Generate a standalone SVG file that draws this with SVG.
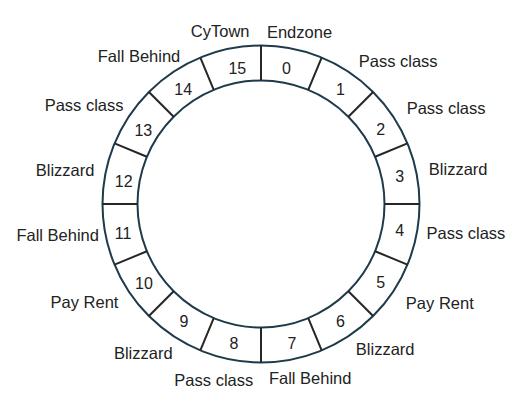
<svg xmlns="http://www.w3.org/2000/svg" width="532" height="417" viewBox="0 0 532 417">
<style>
.ring{fill:none;stroke:#1f3a4a;stroke-width:2}
.div{stroke:#262626;stroke-width:2}
.num{font-family:"Liberation Sans",Arial,sans-serif;font-size:16px;fill:#222;text-anchor:middle}
.lbl{font-family:"Liberation Sans",Arial,sans-serif;font-size:16.5px;fill:#222;text-anchor:middle}
</style>
<rect width="532" height="417" fill="#fff"/>
<g id="ring">
<circle class="ring" cx="261" cy="204" r="158.5"/>
<circle class="ring" cx="261" cy="204" r="123.5"/>
</g>
<g id="connectors">
<g transform="translate(261 204)">
<line class="div" x1="0" y1="-123.5" x2="0" y2="-158.5" transform="rotate(0)"/>
<line class="div" x1="0" y1="-123.5" x2="0" y2="-158.5" transform="rotate(22.5)"/>
<line class="div" x1="0" y1="-123.5" x2="0" y2="-158.5" transform="rotate(45)"/>
<line class="div" x1="0" y1="-123.5" x2="0" y2="-158.5" transform="rotate(67.5)"/>
<line class="div" x1="0" y1="-123.5" x2="0" y2="-158.5" transform="rotate(90)"/>
<line class="div" x1="0" y1="-123.5" x2="0" y2="-158.5" transform="rotate(112.5)"/>
<line class="div" x1="0" y1="-123.5" x2="0" y2="-158.5" transform="rotate(135)"/>
<line class="div" x1="0" y1="-123.5" x2="0" y2="-158.5" transform="rotate(157.5)"/>
<line class="div" x1="0" y1="-123.5" x2="0" y2="-158.5" transform="rotate(180)"/>
<line class="div" x1="0" y1="-123.5" x2="0" y2="-158.5" transform="rotate(202.5)"/>
<line class="div" x1="0" y1="-123.5" x2="0" y2="-158.5" transform="rotate(225)"/>
<line class="div" x1="0" y1="-123.5" x2="0" y2="-158.5" transform="rotate(247.5)"/>
<line class="div" x1="0" y1="-123.5" x2="0" y2="-158.5" transform="rotate(270)"/>
<line class="div" x1="0" y1="-123.5" x2="0" y2="-158.5" transform="rotate(292.5)"/>
<line class="div" x1="0" y1="-123.5" x2="0" y2="-158.5" transform="rotate(315)"/>
<line class="div" x1="0" y1="-123.5" x2="0" y2="-158.5" transform="rotate(337.5)"/>
</g>
</g>
<g id="seg0"><text class="num" x="286.4" y="73.5">0</text><text class="lbl" x="299.5" y="37.5">Endzone</text></g>
<g id="seg1"><text class="num" x="340.5" y="95">1</text><text class="lbl" x="398.2" y="67">Pass class</text></g>
<g id="seg2"><text class="num" x="380.8" y="135">2</text><text class="lbl" x="446.1" y="113.5">Pass class</text></g>
<g id="seg3"><text class="num" x="399.7" y="182.3">3</text><text class="lbl" x="458.2" y="175">Blizzard</text></g>
<g id="seg4"><text class="num" x="399.7" y="236">4</text><text class="lbl" x="465.9" y="238.5">Pass class</text></g>
<g id="seg5"><text class="num" x="380.8" y="287.5">5</text><text class="lbl" x="439.8" y="309">Pay Rent</text></g>
<g id="seg6"><text class="num" x="340.5" y="327.3">6</text><text class="lbl" x="385.2" y="355">Blizzard</text></g>
<g id="seg7"><text class="num" x="292" y="349.3">7</text><text class="lbl" x="310.2" y="384">Fall Behind</text></g>
<g id="seg8"><text class="num" x="234" y="349.3">8</text><text class="lbl" x="213.8" y="385.5">Pass class</text></g>
<g id="seg9"><text class="num" x="183.9" y="327.3">9</text><text class="lbl" x="143.3" y="359">Blizzard</text></g>
<g id="seg10"><text class="num" x="144" y="288.5">10</text><text class="lbl" x="84.5" y="307.5">Pay Rent</text></g>
<g id="seg11"><text class="num" x="123" y="238.8">11</text><text class="lbl" x="57.7" y="241">Fall Behind</text></g>
<g id="seg12"><text class="num" x="123.7" y="187">12</text><text class="lbl" x="65.1" y="176">Blizzard</text></g>
<g id="seg13"><text class="num" x="143.3" y="136">13</text><text class="lbl" x="84.1" y="111">Pass class</text></g>
<g id="seg14"><text class="num" x="183.2" y="94.5">14</text><text class="lbl" x="139" y="62">Fall Behind</text></g>
<g id="seg15"><text class="num" x="237.3" y="73.5">15</text><text class="lbl" x="220.2" y="37">CyTown</text></g>
</svg>
